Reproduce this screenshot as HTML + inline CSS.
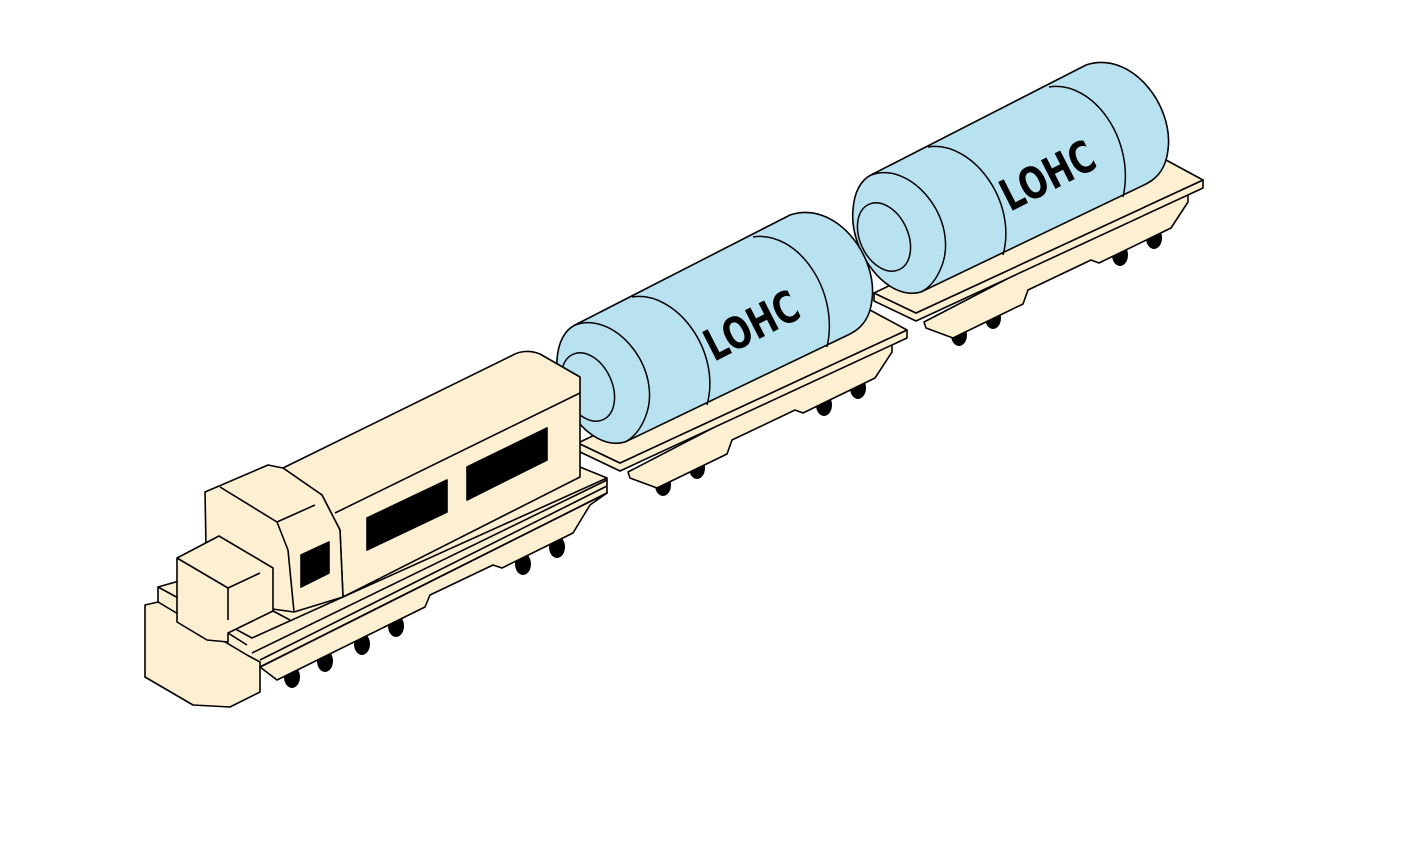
<!DOCTYPE html>
<html><head><meta charset="utf-8"><style>html,body{margin:0;padding:0;background:#fff}svg{display:block}</style></head>
<body>
<svg width="1417" height="851" viewBox="0 0 1417 851" xmlns="http://www.w3.org/2000/svg">
<defs>
<g id="car">
  <g fill="#000">
    <ellipse cx="663" cy="485" rx="8" ry="11"/><ellipse cx="697" cy="468" rx="8" ry="11"/>
    <ellipse cx="824" cy="405" rx="8" ry="11"/><ellipse cx="858" cy="388" rx="8" ry="11"/>
  </g>
  <path d="M628,472 L630,478 L657,488 L727,454 L732,440 L795,410 L803,413 L875,378 L892,352 L892,335 Z" fill="#fdefd2" stroke="#000" stroke-width="1.6" stroke-linejoin="round"/>
  <path d="M578,443 L620,463 L907,330 L907,338 L620,471 L578,451 Z" fill="#fdefd2" stroke="#000" stroke-width="1.6" stroke-linejoin="round"/>
  <path d="M578,443 L845,315 L870,310 L907,330 L620,463 Z" fill="#fdefd2" stroke="#000" stroke-width="1.6" stroke-linejoin="round"/>
  <path d="M575,325 L790,215 C835,200 878,255 872,300 C870,318 862,328 850,334 L625,442 C590,452 553,400 557,360 C558,342 565,330 575,325 Z" fill="#b9e2f1" stroke="#000" stroke-width="1.6"/>
  <path d="M575,325 C615,310 665,370 645,418 C640,430 633,438 625,442" fill="none" stroke="#000" stroke-width="1.5"/>
  <path d="M632,297 C675,290 722,350 707,405" fill="none" stroke="#000" stroke-width="1.5"/>
  <path d="M753,237 C797,230 840,290 827,347" fill="none" stroke="#000" stroke-width="1.5"/>
  <ellipse cx="588" cy="387" rx="24" ry="36" transform="rotate(-25 588 387)" fill="#b9e2f1" stroke="#000" stroke-width="1.5"/>
  <text x="0" y="0" transform="translate(714,362) rotate(-27)" font-family="'DejaVu Sans', 'Liberation Sans', sans-serif" font-weight="bold" font-size="44" textLength="100" lengthAdjust="spacingAndGlyphs" fill="#000">LOHC</text>
</g>
</defs>

<use href="#car" transform="translate(296,-150)"/>
<use href="#car"/>

<g stroke="#000" stroke-width="1.6" stroke-linejoin="round" fill="#fdefd2">
  <g fill="#000" stroke="none">
    <ellipse cx="292" cy="677" rx="8" ry="11"/><ellipse cx="325" cy="661" rx="8" ry="11"/>
    <ellipse cx="362" cy="644" rx="8" ry="11"/><ellipse cx="396" cy="626" rx="8" ry="11"/>
    <ellipse cx="523" cy="564" rx="8" ry="11"/><ellipse cx="557" cy="547" rx="8" ry="11"/>
  </g>
  <path d="M260,667 L277,680 L425,607 L430,595 L493,565 L502,568 L573,533 L590,505 L607,493 Z"/>
  <path d="M158,587 L158,602 L260,667 L607,493 L607,478 L580,467 Z"/>
  <path d="M158,587 L252,638 L607,478" fill="none"/>
  <line x1="260" y1="667" x2="607" y2="493"/>
  <line x1="260" y1="660" x2="607" y2="486"/>
  <path d="M283,468 L513,355 C520,351 530,350 540,354 L580,377 L580,477 L343,597 L340,530 L322,495 Z"/>
  <path d="M335,513 L580,393" fill="none"/>
  <path d="M205,492 L268,465 L283,468 L322,495 L340,530 L343,597 L294,612 L207,600 Z"/>
  <path d="M220,487 L277,522 L315,505 M277,522 L288,550 L294,612" fill="none"/>
  <polygon points="301,555 329,542 329,573 301,587" fill="#000"/>
  <polygon points="367,518 447,480 447,512 367,550" fill="#000"/>
  <polygon points="467,467 547,428 547,460 467,500" fill="#000"/>
  <path d="M145,605 L158,602 L247,655 L260,662 L260,692 L230,707 L193,705 L145,677 Z"/>
  <path d="M252,653 L607,480" fill="none"/>
  <path d="M177,558 L219,536 L273,568 L273,611 L228,633 L228,642 L207,640 L177,622 Z"/>
  <path d="M177,558 L228,588 L260,573 M228,588 L228,620 M228,633 L247,645 M273,611 L290,620" fill="none"/>
</g>
</svg>
</body></html>
